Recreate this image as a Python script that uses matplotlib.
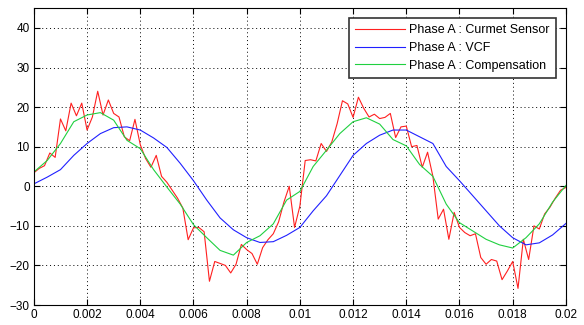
import numpy as np
import matplotlib.pyplot as plt

plt.rcParams['font.family'] = ['Liberation Sans', 'DejaVu Sans']

# Phase A current sensor (sampled every 0.2 ms)
t_sensor = np.linspace(0, 0.02, 101)
i_sensor = [3.4, 4.5, 5.2, 8.4, 7.3, 17, 14, 21, 17.8, 21,
            14.2, 17.5, 24, 18, 21.8, 18.4, 17.5, 12.5, 11.5, 16.9,
            10.5, 7, 4.8, 7.8, 2.5, 1, -1, -3, -5.5, -13.5,
            -10.5, -10.4, -11.5, -24, -19, -19.5, -20, -21.9, -19.7, -14.7,
            -16, -17, -19.7, -15.5, -13.5, -12, -9, -4, 0, -10.4,
            -5, 6.5, 6.7, 6.4, 10.8, 8.8, 11.2, 15.8, 21.6, 20.8,
            17.4, 22.5, 19.7, 17.5, 18.2, 17.1, 17.4, 18.4, 12.3, 15,
            15.2, 10, 10.3, 4.8, 8.6, 2.5, -8.3, -5.8, -13.4, -6.6,
            -10.4, -11.7, -12.5, -12, -18, -19.7, -18.5, -18.9, -23.6, -21.4,
            -19, -25.8, -13.4, -18.5, -10, -10.8, -7, -5.3, -3, -1,
            -0.3]

# VCF and compensation (every 0.5 ms)
t_smooth = np.linspace(0, 0.02, 41)
i_vcf = [0.6, 2.3, 4.2, 7.8, 10.8, 13.3, 14.8, 15, 14.2, 12.2,
         9.8, 5.8, 1.4, -3.5, -8, -11, -13, -14.2, -14, -12.4,
         -10.4, -6.2, -2.4, 2.7, 7.8, 10.8, 12.9, 14.2, 14.2, 12.5,
         10.8, 5, 1.4, -2.4, -6.2, -10, -13, -14.8, -14.3, -12.3,
         -9.4]
i_comp = [3.6, 6.5, 10.8, 16.3, 18, 18.6, 16.7, 11.6, 9.5, 4.2,
          -0.2, -4.5, -9.7, -13, -16.2, -17.4, -14.2, -12.5, -9.5, -3.5,
          -1.3, 5, 9.1, 13.3, 16.3, 17.3, 15.7, 11.8, 10.2, 5.5,
          2.5, -4.5, -9.2, -11.3, -13.4, -14.8, -15.6, -13, -9.5, -4,
          0.2]

fig = plt.figure(figsize=(5.84, 3.25), dpi=100)
ax = fig.add_axes([0.058, 0.0615, 0.911, 0.9135])

ax.plot(t_sensor, i_sensor, color='#ff2020', lw=0.8, label='Phase A : Curmet Sensor')
ax.plot(t_smooth, i_vcf, color='#2020ff', lw=0.8, label='Phase A : VCF')
ax.plot(t_smooth, i_comp, color='#20d040', lw=0.8, label='Phase A : Compensation')

ax.set_xlim(0, 0.02)
ax.set_ylim(-30, 45)
ax.set_xticks([0, 0.002, 0.004, 0.006, 0.008, 0.01, 0.012, 0.014, 0.016, 0.018, 0.02])
ax.set_xticklabels(['0', '0.002', '0.004', '0.006', '0.008', '0.01', '0.012',
                    '0.014', '0.016', '0.018', '0.02'])
ax.set_yticks([-30, -20, -10, 0, 10, 20, 30, 40])
ax.grid(True, color='black', linestyle=(0, (1, 3)), linewidth=0.7)
ax.tick_params(direction='in', top=True, right=True, labelsize=8.5, length=4, pad=3)
for s in ax.spines.values():
    s.set_linewidth(0.8)

leg = ax.legend(loc='upper right', fontsize=9, frameon=True, fancybox=False,
                framealpha=1, edgecolor='#333333', borderaxespad=0.8,
                handlelength=4.0, labelspacing=0.45, borderpad=0.5, handletextpad=0.3)
leg.get_frame().set_linewidth(1.2)

plt.savefig('out.png', dpi=100)
